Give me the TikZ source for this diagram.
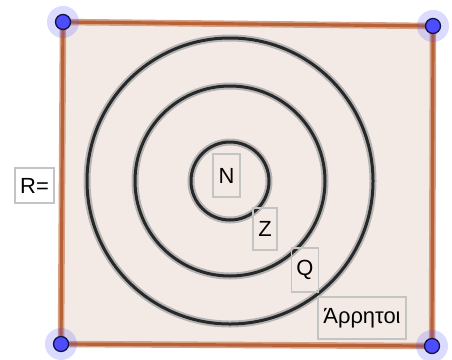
\documentclass[tikz,border=0pt]{standalone}
\usepackage{fontspec}
\setmainfont{Liberation Sans}
\definecolor{polyfill}{RGB}{244,234,229}
\definecolor{edgecore}{RGB}{184,96,56}
\definecolor{edgehalo}{RGB}{214,160,130}
\definecolor{ringcore}{RGB}{40,40,40}
\definecolor{ringhalo}{RGB}{180,180,180}
\definecolor{boxgray}{RGB}{196,196,196}
\definecolor{ptblue}{RGB}{77,77,255}
\definecolor{ptdark}{RGB}{20,20,60}
\begin{document}
\begin{tikzpicture}[x=1bp,y=-1bp,
  edgeh/.style={draw=edgehalo,line width=6.5bp,line cap=round,line join=round},
  edgec/.style={draw=edgecore,line width=3.2bp,line cap=round,line join=round},
  ringh/.style={draw=ringhalo,line width=7bp},
  ringc/.style={draw=ringcore,line width=3bp},
  lab/.style={draw=boxgray,line width=1.8bp,inner sep=0pt,text=black,font=\fontsize{22}{26}\selectfont},
  pthalo/.style={circle,fill=ptblue,fill opacity=0.2,minimum size=32bp,inner sep=0pt},
  ptdot/.style={circle,fill=ptblue,draw=ptdark,line width=1.3bp,minimum size=15bp,inner sep=0pt}]
\useasboundingbox[fill=white] (0,0) rectangle (452,359);
\coordinate (A) at (63,22);
\coordinate (B) at (433,26);
\coordinate (C) at (432,346);
\coordinate (D) at (61,344);
\coordinate (O) at (230,181);
% polygon fill
\fill[polyfill] (A) -- (B) -- (C) -- (D) -- cycle;
% rings
\foreach \r in {39,95,143} {
  \draw[ringh] (O) circle[radius=\r bp];
}
\foreach \r in {39,95,143} {
  \draw[ringc] (O) circle[radius=\r bp];
}
% edges
\draw[edgeh] (A) -- (B) -- (C) -- (D) -- cycle;
\draw[edgec] (A) -- (B) -- (C) -- (D) -- cycle;
% labels
\node[lab,minimum width=27bp,minimum height=43bp] (N) at (226.5,175.5) {N};
\node[lab,minimum width=24bp,minimum height=42bp] (Z) at (265,229) {Z};
\node[lab,minimum width=27bp,minimum height=44bp] (Q) at (305,270) {Q};
\node[lab,minimum width=88bp,minimum height=42bp] (I) at (362,318) {Άρρητοι};
\node[lab,minimum width=39bp,minimum height=35bp,fill=white] (R) at (34.5,185.5) {R=};
% points
\foreach \p in {A,B,C,D} {
  \node[pthalo] at (\p) {};
  \node[ptdot] (p\p) at (\p) {};
}
\end{tikzpicture}
\end{document}
